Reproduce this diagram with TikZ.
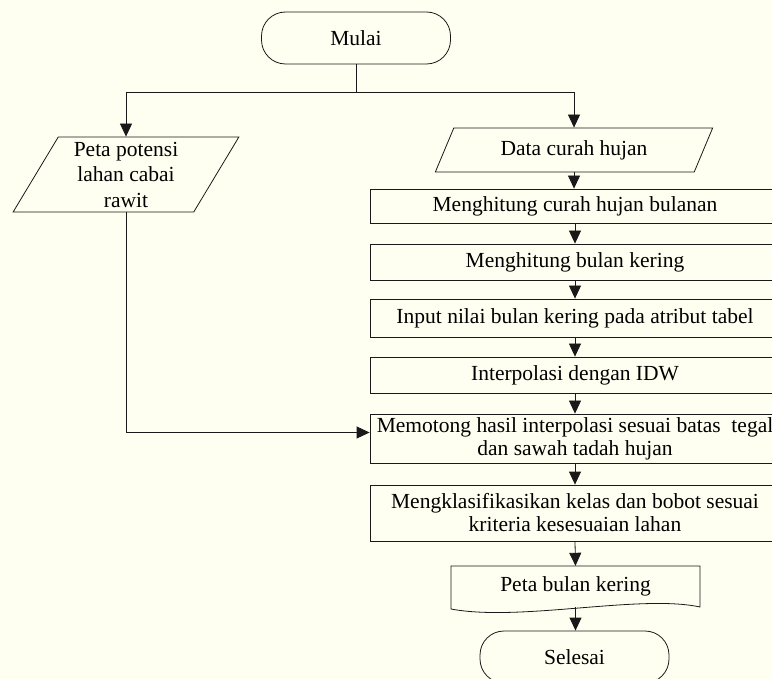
\documentclass[tikz,border=0pt]{standalone}
\usepackage{fontspec}
\setmainfont{Liberation Serif}
\usetikzlibrary{arrows.meta,shapes.geometric,calc}
\definecolor{bgc}{RGB}{255,255,241}
\definecolor{ln}{RGB}{25,25,25}
\begin{document}
\begin{tikzpicture}[x=1pt,y=-1pt,
 every node/.style={font=\fontsize{21.5}{23}\selectfont, text=black},
 box/.style={draw=ln, line width=0.8pt, rectangle, minimum width=410pt, inner sep=0pt, align=center},
 term/.style={draw=ln, line width=0.8pt, rectangle, rounded corners=24pt, minimum width=189pt, minimum height=52pt},
 io/.style={draw=ln, line width=0.8pt, trapezium, trapezium stretches=true, inner sep=0pt, align=center},
 arr/.style={draw=ln, line width=0.8pt, -{Triangle[length=13pt,width=12pt]}},
 link/.style={draw=ln, line width=0.8pt}]
\useasboundingbox (0,0) rectangle (772,679);
\clip (0,0) rectangle (772,679);
\fill[bgc] (0,0) rectangle (772,679);

\node[term] (mulai) at (356,38) {Mulai};
\node[io, trapezium left angle=62, trapezium right angle=118, minimum width=226pt, minimum height=75pt, font=\fontsize{21.5}{25.5}\selectfont] (peta1) at (126,174.5) {Peta potensi\\lahan cabai\\rawit};
\node[io, trapezium left angle=60, trapezium right angle=120, minimum width=278pt, minimum height=44pt] (data) at (574,150) {Data curah hujan};

\node[box, minimum height=34pt] (b1) at (575,206) {Menghitung curah hujan bulanan};
\node[box, minimum height=36pt] (b2) at (575,262) {Menghitung bulan kering};
\node[box, minimum height=38pt] (b3) at (575,318) {Input nilai bulan kering pada atribut tabel};
\node[box, minimum height=36pt] (b4) at (575,375) {Interpolasi dengan IDW};
\node[box, minimum height=49pt] (b5) at (575,438.5) {Memotong hasil interpolasi sesuai batas\ \ tegal\\dan sawah tadah hujan};
\node[box, minimum height=56pt] (b6) at (575,513) {Mengklasifikasikan kelas dan bobot sesuai\\kriteria kesesuaian lahan};

\node[minimum width=249pt, minimum height=41pt, inner sep=0pt] (pbk) at (575.5,586.5) {\raisebox{2pt}{Peta bulan kering}};
\draw[link] (451,566) -- (700,566) -- (700,607) .. controls (640,594) and (520,622) .. (451,609) -- cycle;

\node[term] (selesai) at (574.5,657) {Selesai};

\coordinate (split) at (356,92);
\draw[link] (mulai.south) -- (split);
\draw[arr] (split) -| (peta1.north);
\draw[arr] (split) -| (data.north);
\draw[arr] (data.south) -- (data.south |- b1.north);
\draw[arr] (b1.south) -- (b2.north);
\draw[arr] (b2.south) -- (b3.north);
\draw[arr] (b3.south) -- (b4.north);
\draw[arr] (b4.south) -- (b5.north);
\draw[arr] (b5.south) -- (b6.north);
\draw[arr] (b6.south) -- (pbk.north);
\draw[arr] (pbk.south) -- (pbk.south |- selesai.north);
\draw[arr] (peta1.south) |- ([yshift=6pt]b5.west);
\end{tikzpicture}
\end{document}
